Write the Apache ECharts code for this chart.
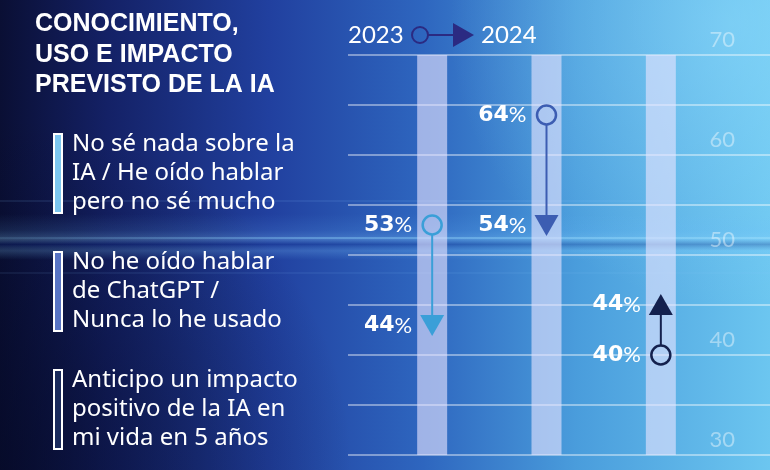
<!DOCTYPE html>
<html><head><meta charset="utf-8">
<script src="https://cdn.jsdelivr.net/npm/echarts@6/dist/echarts.min.js"></script>
<style>html,body{margin:0;padding:0;background:#0b1033}#c{width:770px;height:470px}</style>
</head><body><div id="c"></div>
<script>
// ---- data ----
const categories = ['Conocimiento de la IA', 'Uso de ChatGPT', 'Impacto previsto'];
const seriesNames = [
  'No sé nada sobre la\nIA / He oído hablar\npero no sé mucho',
  'No he oído hablar\nde ChatGPT /\nNunca lo he usado',
  'Anticipo un impacto\npositivo de la IA en\nmi vida en 5 años'
];
const values2023 = [53, 64, 40];
const values2024 = [44, 54, 44];
const yTickLabels = [30, 40, 50, 60, 70];
const yearLabels = ['2023', '2024'];
const titleText = 'CONOCIMIENTO,\nUSO E IMPACTO\nPREVISTO DE LA IA';

// ---- styles ----
const arrowColors = ['#3a9fd8', '#3c5db2', '#14214e'];
const legendColors = ['#7cc6ef', '#5874c4', '#1a2a5c'];
const Y_MIN = 30, Y_MAX = 70;

const chart = echarts.init(document.getElementById('c'), null, {renderer: 'canvas'});
const LG = echarts.graphic.LinearGradient, RG = echarts.graphic.RadialGradient;

const bg = [
  {type: 'rect', z: -20, silent: true, shape: {x: 0, y: 0, width: 770, height: 470},
   style: {fill: new LG(0, 0, 1, 0, [
     {offset: 0, color: '#0a0f34'}, {offset: 0.14, color: '#142166'},
     {offset: 0.35, color: '#21409f'}, {offset: 0.55, color: '#2e66bf'},
     {offset: 0.75, color: '#4a9ddc'}, {offset: 1, color: '#6cc6f0'}])}},
  {type: 'rect', z: -19, silent: true, shape: {x: 0, y: 0, width: 770, height: 470},
   style: {fill: new RG(0.0, 1.0, 0.75, [
     {offset: 0, color: 'rgba(4,8,35,0.6)'}, {offset: 1, color: 'rgba(4,8,35,0)'}])}},
  {type: 'rect', z: -19, silent: true, shape: {x: 0, y: 0, width: 770, height: 470},
   style: {fill: new RG(0.95, 0.05, 0.6, [
     {offset: 0, color: 'rgba(150,225,255,0.45)'}, {offset: 1, color: 'rgba(150,225,255,0)'}])}},
  // horizontal streak band
  {type: 'rect', z: -18, silent: true, shape: {x: 0, y: 214, width: 770, height: 46},
   style: {fill: new LG(0, 0, 0, 1, [
     {offset: 0, color: 'rgba(110,190,255,0)'}, {offset: 0.35, color: 'rgba(110,190,255,0.12)'},
     {offset: 0.55, color: 'rgba(140,210,255,0.28)'}, {offset: 0.66, color: 'rgba(20,50,140,0.3)'},
     {offset: 0.8, color: 'rgba(130,205,255,0.22)'}, {offset: 1, color: 'rgba(110,190,255,0)'}])}},
  {type: 'rect', z: -18, silent: true, shape: {x: 0, y: 237, width: 770, height: 2},
   style: {fill: new LG(0, 0, 1, 0, [
     {offset: 0, color: 'rgba(150,220,255,0.1)'}, {offset: 0.4, color: 'rgba(150,220,255,0.35)'},
     {offset: 1, color: 'rgba(170,230,255,0.35)'}])}},
  {type: 'rect', z: -18, silent: true, shape: {x: 0, y: 200, width: 770, height: 2},
   style: {fill: 'rgba(140,200,255,0.1)'}},
  {type: 'rect', z: -18, silent: true, shape: {x: 0, y: 272, width: 770, height: 2},
   style: {fill: 'rgba(140,200,255,0.08)'}}
];

const header = [
  {type: 'text', z: 10, x: 348, y: 35, style: {text: yearLabels[0], fill: '#fff', font: '24px Lato', verticalAlign: 'middle'}},
  {type: 'circle', z: 10, shape: {cx: 420, cy: 35, r: 8}, style: {fill: 'none', stroke: '#2b2a82', lineWidth: 2}},
  {type: 'line', z: 10, shape: {x1: 428, y1: 35, x2: 454, y2: 35}, style: {stroke: '#2b2a82', lineWidth: 2}},
  {type: 'polygon', z: 10, shape: {points: [[453, 23], [453, 47], [474, 35]]}, style: {fill: '#2b2a82'}},
  {type: 'text', z: 10, x: 481, y: 35, style: {text: yearLabels[1], fill: '#fff', font: '24px Lato', verticalAlign: 'middle'}}
];

const labelRich = {
  n: {fill: '#fff', fontSize: 22, fontWeight: 'bold', fontFamily: 'DejaVu Sans'},
  p: {fill: '#fff', fontSize: 22, fontFamily: 'Lato'}
};

function arrowSeries(i) {
  return {
    type: 'custom', name: seriesNames[i], xAxisIndex: 1, yAxisIndex: 1, z: 5,
    color: legendColors[i],
    data: [[i, values2023[i], values2024[i]]],
    renderItem: function (params, api) {
      const idx = api.value(0), a = api.value(1), b = api.value(2);
      const p0 = api.coord([idx, a]), p1 = api.coord([idx, b]);
      const x = p0[0], dir = p1[1] > p0[1] ? 1 : -1;
      const r = 9.5, triH = 21, triW = 24, c = arrowColors[i];
      const lx = x - 15 - 5;
      return {type: 'group', children: [
        {type: 'line', shape: {x1: x, y1: p0[1] + dir * r, x2: x, y2: p1[1]}, style: {stroke: c, lineWidth: 2}},
        {type: 'circle', shape: {cx: x, cy: p0[1], r: r}, style: {fill: 'none', stroke: c, lineWidth: 2.5}},
        {type: 'polygon', shape: {points: [[x - triW / 2, p1[1]], [x + triW / 2, p1[1]], [x, p1[1] + dir * triH]]}, style: {fill: c}},
        {type: 'text', x: lx, y: p0[1], style: {text: '{n|' + a + '}{p|%}', fill: '#fff', align: 'right', verticalAlign: 'middle', rich: labelRich}},
        {type: 'text', x: lx, y: p1[1] + dir * triH / 2, style: {text: '{n|' + b + '}{p|%}', fill: '#fff', align: 'right', verticalAlign: 'middle', rich: labelRich}}
      ]};
    }
  };
}

const option = {
  backgroundColor: '#0b1033',
  animation: false,
  graphic: {elements: bg.concat(header)},
  title: {
    text: titleText, left: 35, top: 9, padding: 0,
    textStyle: {color: '#fff', fontSize: 25, fontWeight: 'bold', fontFamily: 'Liberation Sans', lineHeight: 30.5}
  },
  legend: {
    orient: 'vertical', left: 48, top: 125, itemWidth: 8, itemHeight: 79, itemGap: 31,
    icon: 'rect', selectedMode: false,
    textStyle: {color: '#fff', fontSize: 24, lineHeight: 29, fontFamily: 'Noto Sans', padding: [0, 0, 0, 5]},
    data: seriesNames.map((n, i) => ({name: n, itemStyle: {color: legendColors[i], borderColor: '#fff', borderWidth: 2}}))
  },
  grid: [
    {left: 348, right: 0, top: 55, bottom: 15},
    {left: 375, right: 52, top: 55, bottom: 15}
  ],
  xAxis: [
    {type: 'category', gridIndex: 0, data: categories, show: false},
    {type: 'category', gridIndex: 1, data: categories, show: false}
  ],
  yAxis: [
    {gridIndex: 0, type: 'value', min: Y_MIN, max: Y_MAX, interval: 5, position: 'right',
     axisLine: {show: false}, axisTick: {show: false},
     splitLine: {lineStyle: {color: 'rgba(255,255,255,0.55)', width: 1.5}},
     axisLabel: {inside: true, margin: 35, verticalAlign: 'bottom', padding: [0, 0, 4, 0],
       color: 'rgba(255,255,255,0.42)', fontSize: 22, fontFamily: 'Lato',
       formatter: v => yTickLabels.indexOf(v) >= 0 ? String(v) : ''}},
    {gridIndex: 1, type: 'value', min: Y_MIN, max: Y_MAX, show: false, splitLine: {show: false}}
  ],
  series: [
    {type: 'bar', name: 'columnas', xAxisIndex: 1, yAxisIndex: 1, barWidth: 30, silent: true, z: 1,
     data: categories.map(() => Y_MAX), itemStyle: {color: 'rgba(230,228,255,0.62)'}}
  ].concat([0, 1, 2].map(arrowSeries))
};
chart.setOption(option);
</script></body></html>
